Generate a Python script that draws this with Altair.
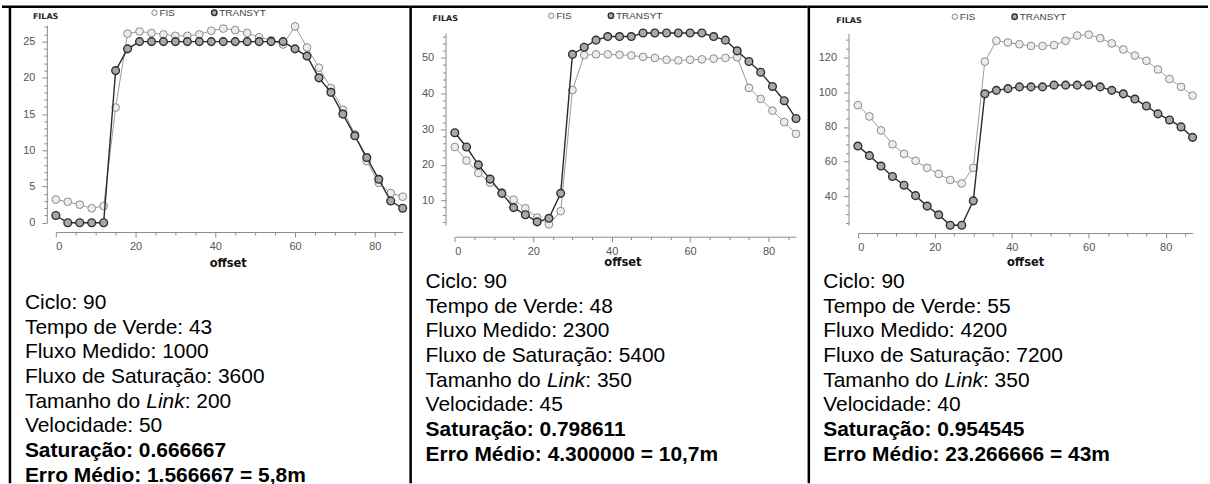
import altair as alt
import pandas as pd

# Offsets (s) at which the queue length was evaluated
OFFSETS = list(range(0, 90, 3))

# Panel A - saturation 0.67
FIS_A = [3.2, 2.9, 2.5, 2.0, 2.3, 15.9, 26.1, 26.4, 26.2, 26.0,
         25.8, 25.8, 26.0, 26.5, 26.8, 26.6, 26.2, 25.6, 25.2, 24.6,
         27.1, 24.2, 21.4, 18.6, 15.6, 12.2, 8.5, 5.5, 4.1, 3.6]
TRANSYT_A = [1, 0, 0, 0, 0, 21, 24, 25, 25, 25,
             25, 25, 25, 25, 25, 25, 25, 25, 25, 25,
             24, 23, 20, 18, 15, 12, 9, 6, 3, 2]

# Panel B - saturation 0.80
FIS_B = [25, 21.2, 17.7, 15, 12.3, 10.2, 7.8, 5.2, 3.3, 7,
         41, 50.8, 51, 51, 50.9, 50.7, 50.3, 50, 49.5, 49.3,
         49.5, 49.6, 49.8, 50, 50.2, 41.6, 38.5, 35.2, 32, 28.7]
TRANSYT_B = [29, 25, 20, 16, 12, 8, 6, 4, 5, 12,
             51, 53, 55, 56, 56, 56, 57, 57, 57, 57,
             57, 57, 56, 55, 52, 49, 46, 42, 38, 33]

# Panel C - saturation 0.95
FIS_C = [92.5, 86, 78, 70, 64.5, 60.5, 56.5, 53, 49.5, 47.5,
         56.5, 117.5, 129.5, 128.5, 127.5, 126.5, 126.5, 127, 129.5, 132.5,
         133, 131, 128, 124.5, 121, 118, 113, 107.5, 103, 98]
TRANSYT_C = [69, 63.5, 57.5, 51.5, 46.5, 40.5, 34.5, 29.5, 23.5, 23.5,
             37.5, 99, 101, 102, 103, 103, 103, 104, 104, 104,
             104, 103, 101, 99, 96, 92, 87.5, 84, 80, 74]

INFO_A = ["Ciclo: 90", "Tempo de Verde: 43", "Fluxo Medido: 1000",
          "Fluxo de Saturação: 3600", "200", "Velocidade: 50",
          "Saturação: 0.666667", "Erro Médio: 1.566667 = 5,8m"]
INFO_B = ["Ciclo: 90", "Tempo de Verde: 48", "Fluxo Medido: 2300",
          "Fluxo de Saturação: 5400", "350", "Velocidade: 45",
          "Saturação: 0.798611", "Erro Médio: 4.300000 = 10,7m"]
INFO_C = ["Ciclo: 90", "Tempo de Verde: 55", "Fluxo Medido: 4200",
          "Fluxo de Saturação: 7200", "350", "Velocidade: 40",
          "Saturação: 0.954545", "Erro Médio: 23.266666 = 43m"]

H = 484
SANS = "Liberation Sans"
AX_COLOR = "#8c8c8c"
LABEL_COLOR = "#555555"
FIS_LINE = "#9a9a9a"
TR_LINE = "#2a2a2a"
INFO_SIZE = 21

ONE = alt.Data(values=[{}])


def rule(x1, x2, y1, y2, width=2.5):
    return alt.Chart(ONE).mark_rule(color="black", strokeWidth=width).encode(
        x=alt.value(x1), x2=alt.value(x2), y=alt.value(y1), y2=alt.value(y2))


def label(txt, x, y, size, weight="normal", style="normal", color="black",
          font=SANS, align="left"):
    return alt.Chart(ONE).mark_text(
        text=txt, font=font, fontSize=size, fontWeight=weight, fontStyle=style,
        color=color, align=align, baseline="middle").encode(
        x=alt.value(x), y=alt.value(y))


def symbol(x, y, fill, stroke, sw, size):
    return alt.Chart(ONE).mark_point(
        shape="circle", filled=True, fill=fill, stroke=stroke, strokeWidth=sw,
        size=size, opacity=1).encode(x=alt.value(x), y=alt.value(y))


def panel(fis, tr, info, g):
    df = pd.DataFrame({"offset": OFFSETS, "FIS": fis, "TRANSYT": tr})
    base = alt.Chart(df)

    xs = alt.Scale(domain=[0, 87], range=[g["x0"], g["x0"] + 87 * g["kx"]],
                   nice=False, zero=False)
    ys = alt.Scale(domain=[g["ymin"], g["ymax"]],
                   range=[g["yb"], g["yb"] - (g["ymax"] - g["ymin"]) * g["ky"]],
                   nice=False, zero=False)
    axis_common = dict(title=None, grid=False, domainColor=AX_COLOR,
                       tickColor=AX_COLOR, labelColor=LABEL_COLOR,
                       labelFont=SANS, labelFontSize=11, domainWidth=1,
                       tickWidth=1, labelOverlap=False)
    xaxis = alt.Axis(
        values=list(range(0, 88, 5)),
        labelExpr="datum.value % 20 == 0 ? datum.label : ''",
        tickSize={"condition": {"test": "datum.value % 20 == 0", "value": 5}, "value": 3},
        offset=g["xaxis_y"] - H, labelPadding=4, **axis_common)
    yaxis = alt.Axis(
        values=g["yticks"],
        labelExpr=f"datum.value % {g['ymajor']} == 0 ? datum.label : ''",
        tickSize={"condition": {"test": f"datum.value % {g['ymajor']} == 0", "value": 5}, "value": 3},
        offset=-g["yaxis_x"], labelPadding=7, **axis_common)

    X = alt.X("offset:Q", scale=xs, axis=xaxis)

    def Y(f):
        return alt.Y(f"{f}:Q", scale=ys, axis=yaxis)

    layers = [
        base.mark_line(color=FIS_LINE, strokeWidth=1).encode(x=X, y=Y("FIS")),
        base.mark_point(shape="circle", filled=True, fill="#ececec", stroke="#8a8a8a",
                        strokeWidth=1, size=60, opacity=1).encode(x=X, y=Y("FIS")),
        base.mark_line(color=TR_LINE, strokeWidth=1.4).encode(x=X, y=Y("TRANSYT")),
        base.mark_point(shape="circle", filled=True, fill="#a8a8a8", stroke="#2e2e2e",
                        strokeWidth=1.4, size=60, opacity=1).encode(x=X, y=Y("TRANSYT")),
    ]

    # frame
    layers.append(rule(0, g["w"], 6, 6))
    layers.append(rule(g["left"], g["left"], 6, H))

    # header: axis name and legend
    layers.append(label("FILAS", g["filas_x"], g["filas_y"], 8, weight="bold",
                        font="DejaVu Sans", color="#222"))
    layers.append(symbol(g["leg_x"], g["leg_y"], "#f4f4f4", "#8a8a8a", 1, 30))
    layers.append(label("FIS", g["leg_x"] + 5, g["leg_y"], 10, color="#444"))
    layers.append(symbol(g["leg_x"] + 60, g["leg_y"], "#b0b0b0", "#2e2e2e", 1.4, 30))
    layers.append(label("TRANSYT", g["leg_x"] + 65, g["leg_y"], 10, color="#444"))
    layers.append(label("offset", g["offset_x"], g["offset_y"], 11.5, weight="bold",
                        font="DejaVu Sans", color="#111", align="center"))

    # parameter block
    tx, ty, dy = g["tx"], g["ty"], g["dy"]
    for i, line in enumerate(info):
        y = ty + i * dy
        weight = "bold" if i >= 6 else "normal"
        if i == 4:
            w1 = 5.892 * INFO_SIZE - 2
            w2 = 1.834 * INFO_SIZE
            layers.append(label("Tamanho do", tx, y, INFO_SIZE))
            layers.append(label("Link", tx + w1, y, INFO_SIZE, style="italic"))
            layers.append(label(": " + line, tx + w1 + w2, y, INFO_SIZE))
        else:
            layers.append(label(line, tx, y, INFO_SIZE, weight=weight))

    return alt.layer(*layers).properties(width=g["w"], height=H)


GEOM_A = dict(w=409, left=8, x0=54, kx=4.0, ymin=0, ymax=27.3, yb=222.7, ky=7.27,
              xaxis_y=232, yaxis_x=45, yticks=list(range(0, 28, 1)), ymajor=5,
              filas_x=31, filas_y=16, leg_x=153, leg_y=12, offset_x=227, offset_y=264,
              tx=23, ty=303, dy=24.8)
GEOM_B = dict(w=399, left=1, x0=45.3, kx=3.935, ymin=3.1, ymax=57.0, yb=225, ky=3.575,
              xaxis_y=236.7, yaxis_x=36, yticks=list(range(4, 57, 2)), ymajor=10,
              filas_x=23, filas_y=18, leg_x=142, leg_y=15, offset_x=214, offset_y=263,
              tx=16, ty=282, dy=24.76)
GEOM_C = dict(w=402, left=1.5, x0=50.7, kx=3.86, ymin=23.6, ymax=133.7, yb=225, ky=1.746,
              xaxis_y=233, yaxis_x=41.3, yticks=list(range(25, 134, 5)), ymajor=20,
              filas_x=29, filas_y=20, leg_x=148, leg_y=16, offset_x=219, offset_y=263,
              tx=16, ty=282, dy=24.76)

chart = alt.hconcat(
    panel(FIS_A, TRANSYT_A, INFO_A, GEOM_A),
    panel(FIS_B, TRANSYT_B, INFO_B, GEOM_B),
    panel(FIS_C, TRANSYT_C, INFO_C, GEOM_C),
    spacing=0, bounds="flush",
).properties(padding=0, background="white").configure_view(stroke=None)

chart.save("out.html", embed_options={"renderer": "svg", "actions": False})
